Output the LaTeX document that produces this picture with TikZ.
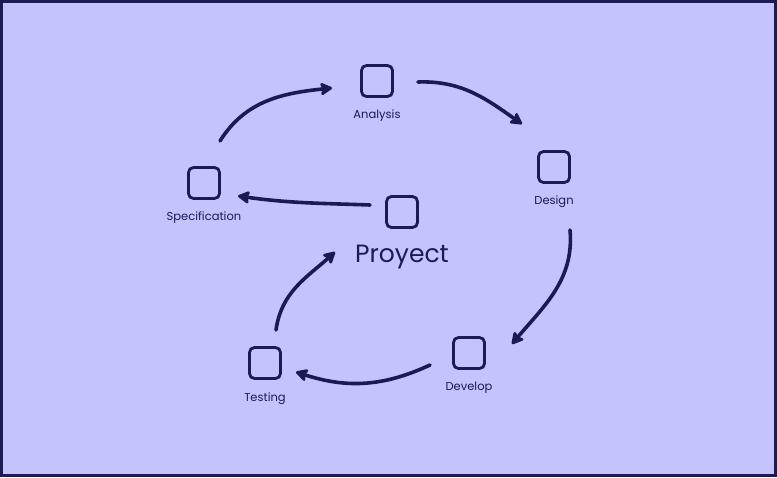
\documentclass[tikz,border=0pt]{standalone}
\usepackage{fontspec}
\setmainfont{Poppins}
\usetikzlibrary{arrows.meta,calc}
\definecolor{bgc}{HTML}{C5C3FD}
\definecolor{ink}{HTML}{1C1A52}
\tikzset{
  box/.style={draw=ink, line width=2.8pt, rounded corners=5pt, minimum width=31pt, minimum height=31pt, inner sep=0pt},
  lbl/.style={text=ink, font=\fontsize{11.5}{13}\selectfont, inner sep=0pt},
  big/.style={text=ink, font=\fontsize{25}{28}\selectfont, inner sep=0pt},
  arr/.style={draw=ink, line width=3.6pt, line cap=round, -{Stealth[length=14pt,width=15pt,inset=3pt,round]}}
}
\begin{document}
\begin{tikzpicture}[x=1pt,y=1pt]
\useasboundingbox (0,0) rectangle (777,477);
\fill[bgc] (0,0) rectangle (777,477);
\draw[ink, line width=3pt] (1.5,1.5) rectangle (775.5,475.5);
% boxes
\node[box] (ana) at (377,396) {};
\node[lbl] (anal) at (377,361) {Analysis};
\node[box] (des) at (554,310) {};
\node[lbl] (desl) at (554,275) {Design};
\node[box] (spec) at (204,294) {};
\node[lbl] (specl) at (204,259) {Specification};
\node[box] (proj) at (402,265) {};
\node[big] (projl) at (402,220) {Proyect};
\node[box] (dev) at (469,124) {};
\node[lbl] (devl) at (469,89) {Develop};
\node[box] (test) at (265,114) {};
\node[lbl] (testl) at (265,78) {Testing};
% arrows
\draw[arr] ($(spec)+(16,42)$) to[out=58,in=186] ($(ana)+(-45,-7)$);
\draw[arr] ($(ana)+(41,-1)$) to[out=2,in=145] ($(des)+(-32,43)$);
\draw[arr] ($(des)+(16,-63)$) to[out=-85,in=50] ($(dev)+(43,9)$);
\draw[arr] ($(dev)+(-39,-12)$) to[out=205,in=-18] ($(test)+(31,-9)$);
\draw[arr] ($(test)+(11,33)$) to[out=82,in=222] ($(proj)+(-67,-40)$);
\draw[arr] ($(proj)+(-32,7)$) to[out=178,in=-8] ($(spec)+(34,-13)$);
\end{tikzpicture}
\end{document}
